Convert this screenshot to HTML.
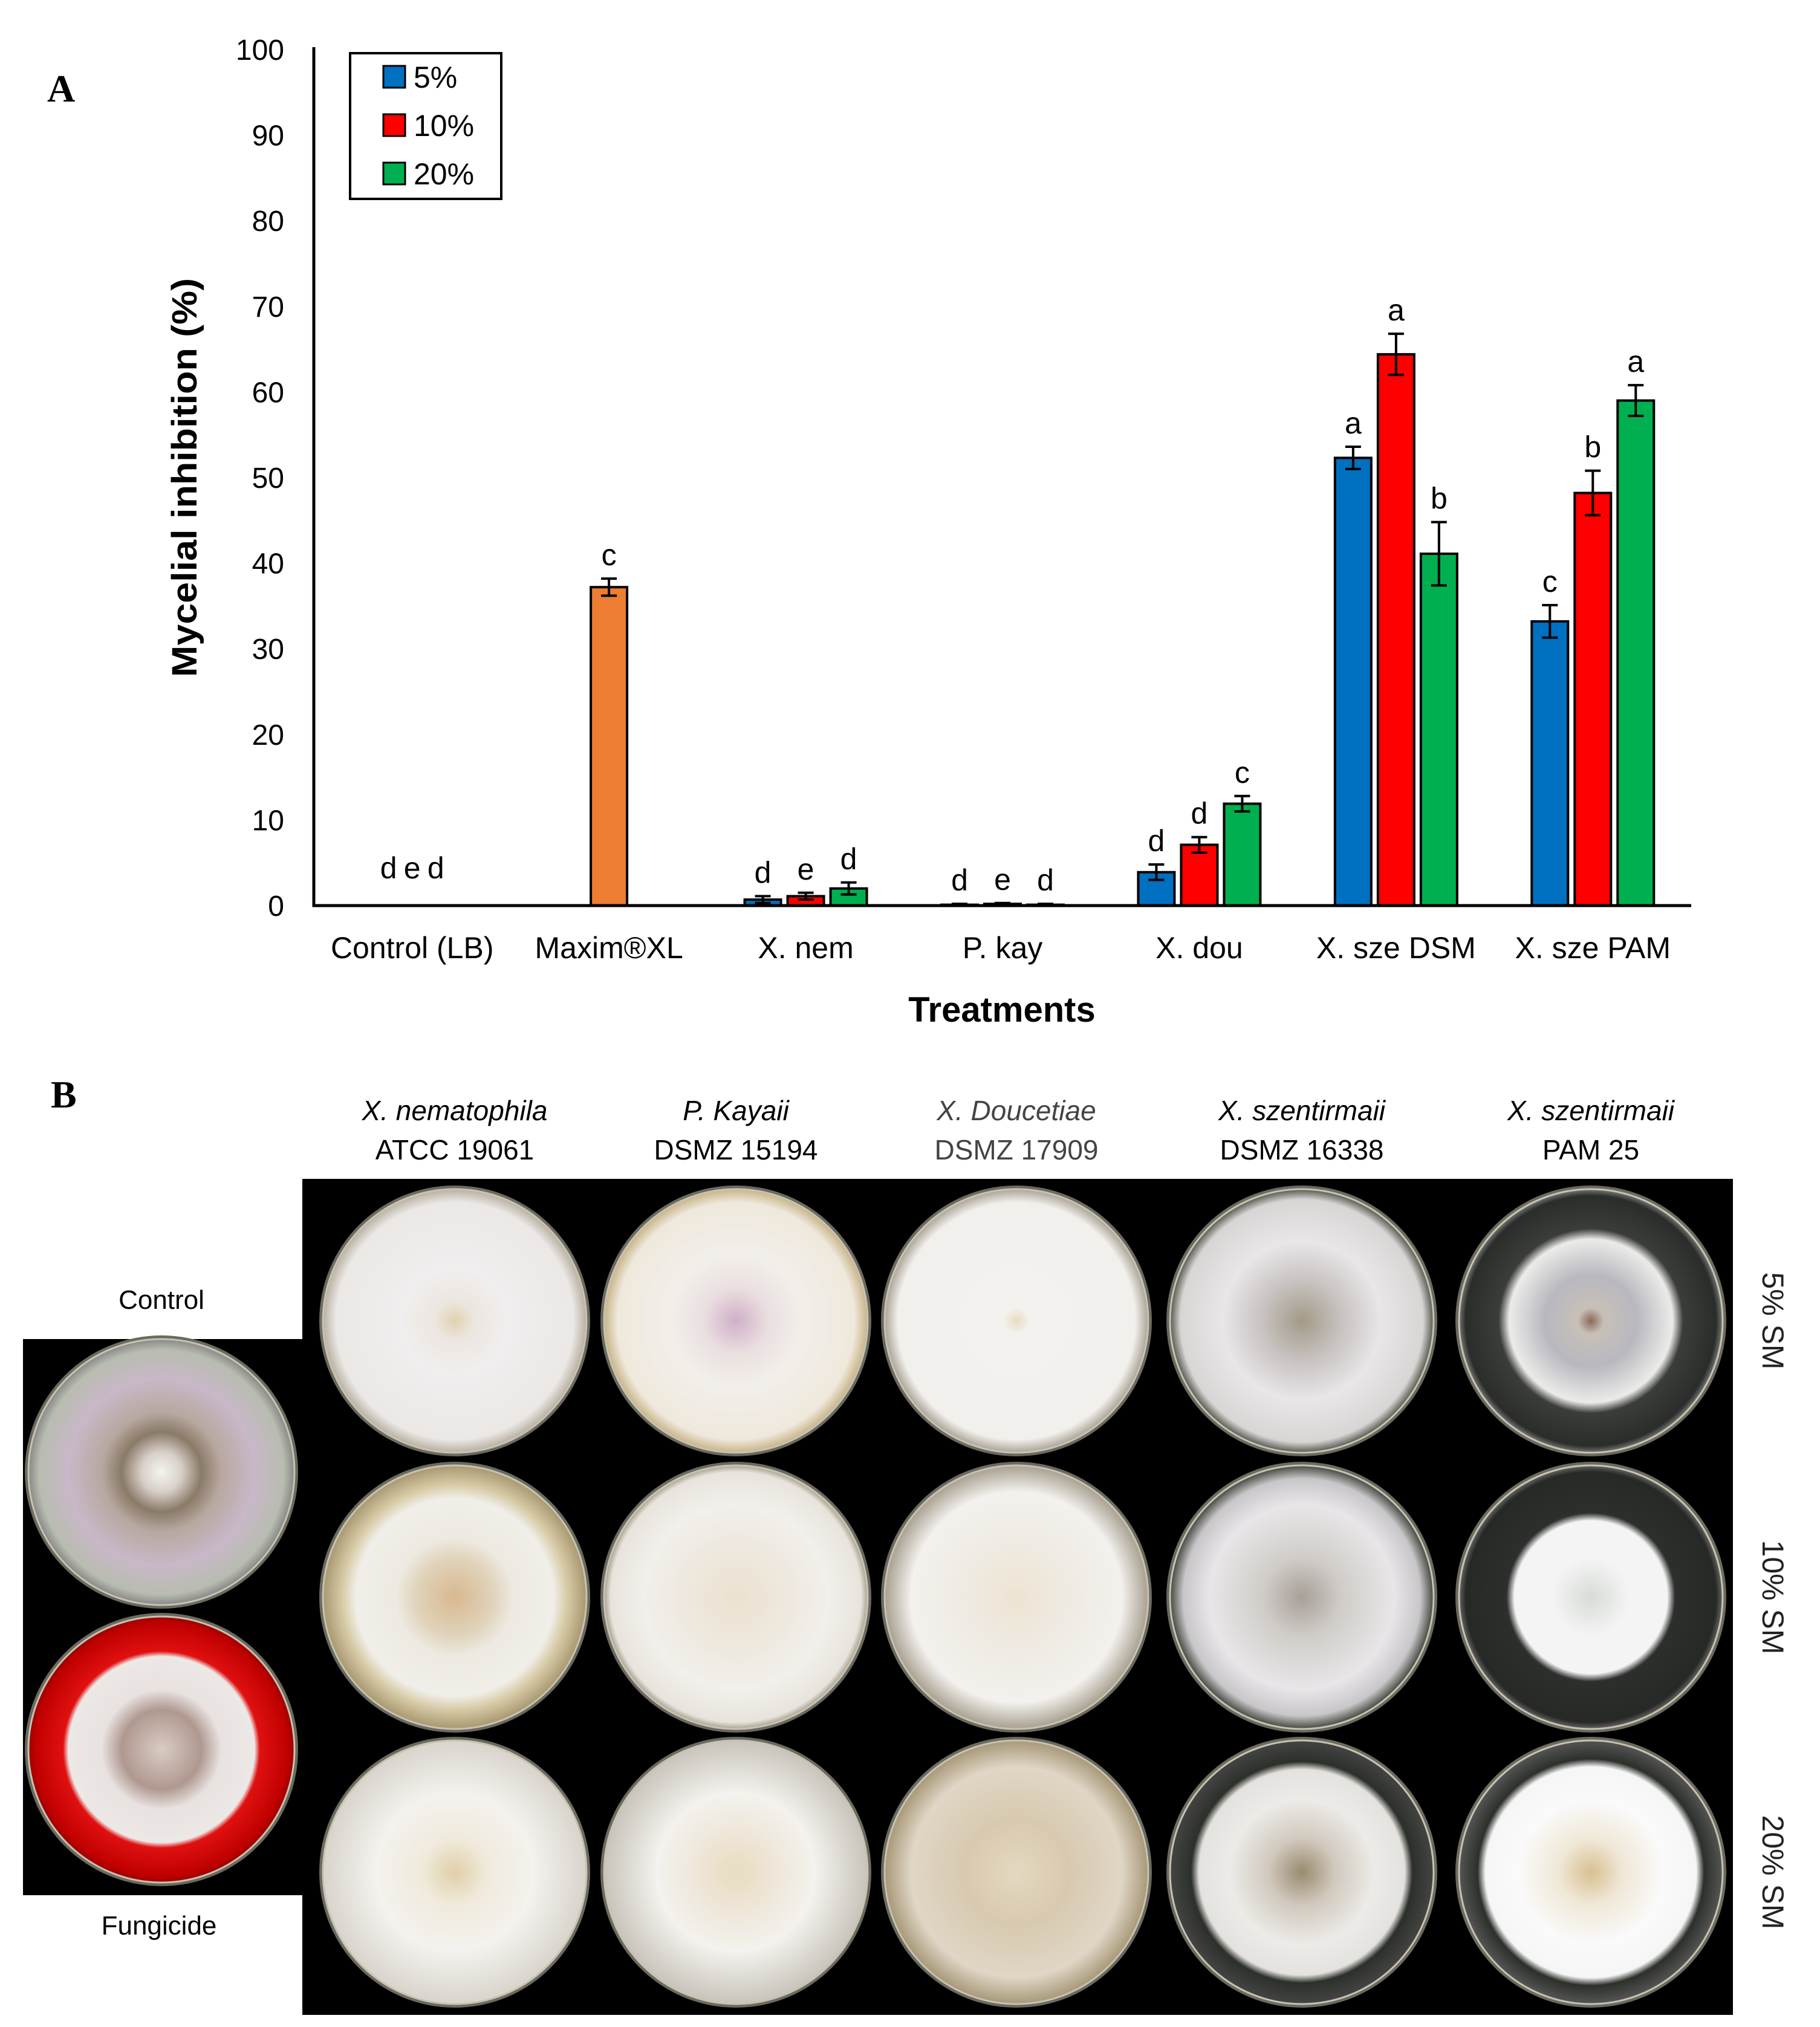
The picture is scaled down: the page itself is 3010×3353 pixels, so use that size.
<!DOCTYPE html>
<html><head><meta charset="utf-8"><style>
html,body{margin:0;padding:0;background:#fff;}
svg{display:block;}
text{font-family:"Liberation Sans",sans-serif;}
</style></head><body>
<svg id="fig" width="3010" height="3353" viewBox="0 0 3010 3353" xmlns="http://www.w3.org/2000/svg">
<defs id="defs"></defs>
<text x="78" y="168" style="font-family:'Liberation Serif',serif;font-weight:bold" font-size="64">A</text>
<g id="chart"></g>
<text x="84" y="1832" style="font-family:'Liberation Serif',serif;font-weight:bold" font-size="64">B</text>
<g id="photos"></g>
</svg>
<script>
const NS="http://www.w3.org/2000/svg";
const categories=["Control (LB)","Maxim®XL","X. nem","P. kay","X. dou","X. sze DSM","X. sze PAM"];
const series5=[0,null,0.7,0.1,3.9,52.3,33.2];
const series10=[0,null,1.1,0.2,7.1,64.4,48.2];
const series20=[0,null,2.0,0.1,11.9,41.1,59.0];
const err5=[0,null,0.4,0.1,0.9,1.3,1.9];
const err10=[0,null,0.4,0.1,0.9,2.4,2.6];
const err20=[0,null,0.7,0.1,0.9,3.7,1.8];
const lett5=["d",null,"d","d","d","a","c"];
const lett10=["e",null,"e","e","d","a","b"];
const lett20=["d",null,"d","d","c","b","a"];
const maximValue=[37.2];
const maximErr=[1.0];
const maximLetter=["c"];
const yTicks=[0,10,20,30,40,50,60,70,80,90,100];
const seriesNames=["5%","10%","20%"];
const colors=["#0070c0","#ff0000","#00b050"];

const X0=519,X1=2797,Y0=1498,Y100=82;
const band=(X1-X0)/categories.length;
const y=v=>Y0-(v/100)*(Y0-Y100);
const xc=i=>X0+band*(i+0.5);
const chart=document.getElementById('chart');
function el(tag,attrs,parent,txt){const e=document.createElementNS(NS,tag);for(const k in attrs)e.setAttribute(k,attrs[k]);if(txt!==undefined)e.textContent=txt;(parent||chart).appendChild(e);return e;}

yTicks.forEach(t=>{
  const e=el('text',{x:470,y:y(t)+17,'text-anchor':'end','font-size':48},chart,String(t));
  
  
});
const yt=el('text',{x:0,y:0,transform:'translate(325,790) rotate(-90)','text-anchor':'middle','font-size':58,'font-weight':'bold',textLength:660,lengthAdjust:'spacingAndGlyphs'},chart,'Mycelial inhibition (%)');



const bw=60,pitch=71;
const all=[series5,series10,series20],errs=[err5,err10,err20],lets=[lett5,lett10,lett20];
function drawBar(cx,v,e,col,letter){
  if(v>0){
    const r=el('rect',{x:cx-bw/2,y:y(v),width:bw,height:Y0-y(v),fill:col,stroke:'#000','stroke-width':4});
    
    
    const g=el('path',{d:`M${cx},${y(v+e)}V${y(v-e)}M${cx-13},${y(v+e)}H${cx+13}M${cx-13},${y(v-e)}H${cx+13}`,stroke:'#000','stroke-width':4,fill:'none'});
    
    
  }
  const top=v>0?y(v+e):y(0)-20;
  const t=el('text',{x:cx,y:top-22,'text-anchor':'middle','font-size':50},chart,letter);
  
  
}
categories.forEach((c,i)=>{
  if(i===1){
    drawBar(xc(i),maximValue[0],maximErr[0],'#ed7d31',maximLetter[0]);
  } else {
    for(let s=0;s<3;s++){
      const cx=xc(i)+(s-1)*pitch;
      if(i===0){
        const t=el('text',{x:cx*0.55+xc(i)*0.45,y:y(0)-45,'text-anchor':'middle','font-size':50},chart,lets[s][i]);
        
        
      } else drawBar(cx,all[s][i],errs[s][i],colors[s],lets[s][i]);
    }
  }
  const lab=el('text',{x:xc(i),y:1585,'text-anchor':'middle','font-size':50},chart,c);
  
  
});
const ax=el('path',{d:`M${X0},${Y100-4}V${Y0}H${X1}`,stroke:'#000','stroke-width':5,fill:'none'});


const xt=el('text',{x:1657,y:1690,'text-anchor':'middle','font-size':58,'font-weight':'bold'},chart,'Treatments');


const lg=el('g',{});


el('rect',{x:579,y:88,width:250,height:241,fill:'#fff',stroke:'#000','stroke-width':4},lg);
seriesNames.forEach((n,s)=>{
  const yy=127+s*80;
  const sw=el('rect',{x:634,y:yy-18,width:36,height:36,fill:colors[s],stroke:'#000','stroke-width':3},lg);
  
  
  const t=el('text',{x:684,y:yy+18,'font-size':50},lg,n);
  
  
});

const ph=document.getElementById('photos');
const defs=document.getElementById('defs');
el('rect',{x:500,y:1950,width:2366,height:1383,fill:'#000'},ph);
el('rect',{x:38,y:2215,width:462,height:920,fill:'#000'},ph);
const heads=[["X. nematophila","ATCC 19061"],["P. Kayaii","DSMZ 15194"],["X. Doucetiae","DSMZ 17909"],["X. szentirmaii","DSMZ 16338"],["X. szentirmaii","PAM 25"]];
const colX=[752,1217,1681,2153,2631],rowY=[2185,2642,3097],rowL=["5% SM","10% SM","20% SM"];
heads.forEach((h,i)=>{
  const light=i===2?'#444':'#000';
  const a=el('text',{x:colX[i],y:1853,'text-anchor':'middle','font-size':46,'font-style':'italic',fill:light},ph,h[0]);
  
  
  const b=el('text',{x:colX[i],y:1918,'text-anchor':'middle','font-size':46,fill:light},ph,h[1]);
  
  
});
rowL.forEach((r,j)=>{
  const t=el('text',{x:0,y:0,transform:`translate(2915,${rowY[j]}) rotate(90)`,'text-anchor':'middle','font-size':50,fill:'#222'},ph,r);
  
  
});
const c1=el('text',{x:267,y:2165,'text-anchor':'middle','font-size':44},ph,'Control');


const c2=el('text',{x:263,y:3200,'text-anchor':'middle','font-size':44},ph,'Fungicide');



let gid=0;
function plate(cx,cy,r,stops,name){
  const id='g'+(gid++);
  const g=el('radialGradient',{id:id},defs);
  stops.forEach(s=>el('stop',{offset:s[0],'stop-color':s[1]},g));
  el('circle',{cx:cx,cy:cy,r:r+6,fill:'#6a6a60'},ph);
  const c=el('circle',{cx:cx,cy:cy,r:r,fill:`url(#${id})`,stroke:'#c8c2b0','stroke-width':3},ph);
  
  
}
const styles=[
 [[['0','#e3d2b0'],['0.15','#ece6e0'],['0.4','#f0eeee'],['0.9','#ebe8e6'],['1','#b8b0a0']],
  [['0','#d0b0c8'],['0.25','#eadfe0'],['0.5','#f2efea'],['0.9','#efe8dc'],['1','#c8b488']],
  [['0','#e8dcc0'],['0.1','#f4f2ee'],['0.9','#f2f0ec'],['1','#aaa498']],
  [['0','#a29a88'],['0.3','#c8c2c0'],['0.6','#e8e6e8'],['0.92','#d8d6d4'],['1','#555850']],
  [['0','#8a6a58'],['0.1','#c8c0b8'],['0.35','#b8b8c0'],['0.62','#ecebe8'],['0.7','#3a3d38'],['0.95','#2a2d2a'],['1','#777']]],
 [[['0','#d8b890'],['0.3','#e0d4bc'],['0.45','#eeeae2'],['0.75','#f0eee8'],['0.85','#d8cca8'],['1','#a89870']],
  [['0','#ebe2d0'],['0.4','#eee8de'],['0.7','#f2f0ec'],['0.95','#e8e4dc'],['1','#a8a090']],
  [['0','#ede4d2'],['0.4','#efeae2'],['0.8','#f3f1ee'],['1','#a8a090']],
  [['0','#a8a098'],['0.3','#d0ccc8'],['0.7','#e8e6e8'],['0.9','#c8c6c8'],['1','#444840']],
  [['0','#d8dcd8'],['0.3','#f4f4f4'],['0.58','#f4f4f4'],['0.64','#2c2f2c'],['0.95','#262926'],['1','#666']]],
 [[['0','#e0d0a8'],['0.25','#f0eadc'],['0.6','#f4f2ee'],['1','#d8d4cc']],
  [['0','#e8dcc0'],['0.3','#eee6d8'],['0.6','#f4f2ee'],['1','#c8c4ba']],
  [['0','#e4d8c0'],['0.4','#d8cab0'],['0.8','#e0d6c6'],['1','#a89878']],
  [['0','#9a8a70'],['0.25','#d0c8bc'],['0.55','#ecebe8'],['0.78','#e4e2de'],['0.84','#2c302a'],['1','#444']],
  [['0','#d8c090'],['0.25','#f0e8d8'],['0.55','#fafafa'],['0.8','#f6f6f6'],['0.86','#2c302a'],['1','#555']]]
];
rowY.forEach((yy,j)=>colX.forEach((xx,i)=>plate(xx,yy,218,styles[j][i],'plate-'+(j+1)+'-'+(i+1))));
plate(267,2435,220,[['0','#f4f4f0'],['0.15','#d8d0c8'],['0.3','#8a7a68'],['0.45','#b8a8a0'],['0.7','#c8b8c8'],['0.92','#b8bcb0'],['1','#888']],'control-plate');
plate(267,2894,220,[['0','#d8ccc4'],['0.3','#b09890'],['0.45','#e8e2e0'],['0.7','#ece8e6'],['0.74','#e01010'],['0.95','#c00000'],['1','#900']],'fungicide-plate');
</script>
</body></html>
